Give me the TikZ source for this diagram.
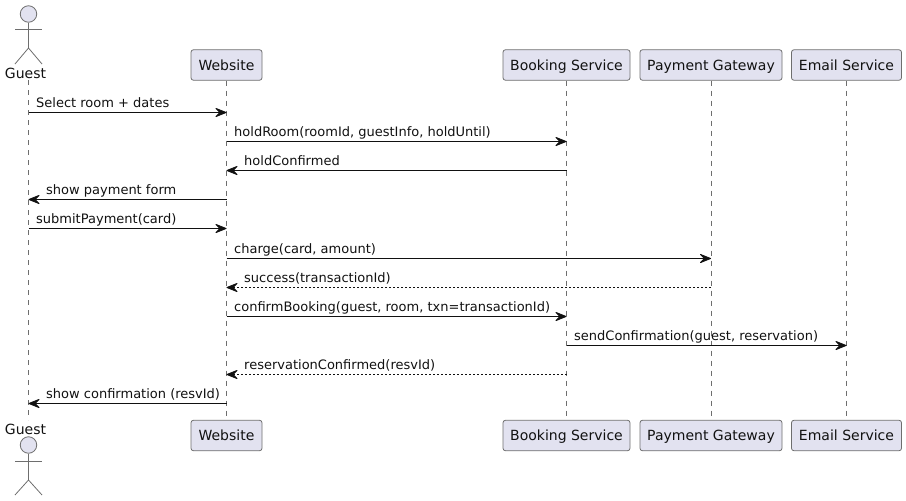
\documentclass[tikz,border=0pt]{standalone}
\usepackage{fontspec}
\setmainfont{DejaVu Sans}
\usetikzlibrary{arrows.meta}
\definecolor{pfill}{HTML}{E2E2F0}
\definecolor{pline}{HTML}{6E6E6E}
\definecolor{ink}{HTML}{111111}
\tikzset{
  px/.style={x=1pt,y=-1pt},
  part/.style={draw=pline,fill=pfill,rounded corners=2.5pt,line width=.8pt,minimum height=30.5pt,inner sep=0pt,anchor=center,font=\fontsize{14}{14}\selectfont,text=ink,text height=12pt,text depth=1.5pt},
  head/.style={circle,draw=pline,fill=pfill,line width=.8pt,minimum size=16.5pt,inner sep=0pt},
  limb/.style={draw=pline,line width=.8pt},
  aname/.style={inner sep=0pt,font=\fontsize{14}{14}\selectfont,text=ink},
  lifeline/.style={draw=pline,line width=.7pt,dash pattern=on 5pt off 5pt},
  msg/.style={draw=ink,line width=.9pt,-{Stealth[length=13pt,width=10.5pt,inset=5pt,round=false]}},
  reply/.style={msg,dash pattern=on 2pt off 2pt},
  lab/.style={inner sep=0pt,anchor=base west,font=\fontsize{13}{13}\selectfont,text=ink},
}
\begin{document}
\begin{tikzpicture}[px]
\useasboundingbox (0,0) rectangle (906,501);
% lifeline end points for the actor
\coordinate (guestT) at (28.5,80);
\coordinate (guestB) at (28.5,420);
% lifelines are drawn first
\node[part,minimum width=71pt] (web) at (226.5,65) {Website};
\node[part,minimum width=71pt] (webB) at (226.5,435.5) {Website};
\node[part,minimum width=127pt] (book) at (566.5,65) {Booking Service};
\node[part,minimum width=127pt] (bookB) at (566.5,435.5) {Booking Service};
\node[part,minimum width=142pt] (pay) at (711,65) {Payment Gateway};
\node[part,minimum width=142pt] (payB) at (711,435.5) {Payment Gateway};
\node[part,minimum width=110pt] (mail) at (846.5,65) {Email Service};
\node[part,minimum width=110pt] (mailB) at (846.5,435.5) {Email Service};
\draw[lifeline] (guestT) -- (guestB);
\draw[lifeline] (web.south) -- (webB.north);
\draw[lifeline] (book.south) -- (bookB.north);
\draw[lifeline] (pay.south) -- (payB.north);
\draw[lifeline] (mail.south) -- (mailB.north);
% top actor
\node[head] (guestHead) at (28.5,14) {};
\coordinate (gHip) at (28.5,48);
\coordinate (gArmL) at (15,29);
\coordinate (gArmR) at (42,29);
\coordinate (gLegL) at (15,64);
\coordinate (gLegR) at (42,64);
\draw[limb] (guestHead.south) -- (gHip);
\draw[limb] (gArmL) -- (gArmR);
\draw[limb] (gLegL) -- (gHip) -- (gLegR);
\node[aname] (guestName) at (25.5,73) {Guest};
% bottom actor
\node[aname] (guestNameB) at (25.5,429) {Guest};
\node[head] (guestHeadB) at (28.5,445) {};
\coordinate (hHip) at (28.5,480);
\coordinate (hArmL) at (15,461);
\coordinate (hArmR) at (42,461);
\coordinate (hLegL) at (15,495);
\coordinate (hLegR) at (42,495);
\draw[limb] (guestHeadB.south) -- (hHip);
\draw[limb] (hArmL) -- (hArmR);
\draw[limb] (hLegL) -- (hHip) -- (hLegR);
% messages
\draw[msg] (guestT |- 0,112.5) -- (web.south |- 0,112.5);
\node[lab] (m1) at (36,107.5) {Select room + dates};
\draw[msg] (web.south |- 0,141.5) -- (book.south |- 0,141.5);
\node[lab] (m2) at (234,136.5) {holdRoom(roomId, guestInfo, holdUntil)};
\draw[msg] (book.south |- 0,170.5) -- (web.south |- 0,170.5);
\node[lab] (m3) at (244,165.5) {holdConfirmed};
\draw[msg] (web.south |- 0,199.5) -- (guestT |- 0,199.5);
\node[lab] (m4) at (46,194.5) {show payment form};
\draw[msg] (guestT |- 0,228.5) -- (web.south |- 0,228.5);
\node[lab] (m5) at (36,223.5) {submitPayment(card)};
\draw[msg] (web.south |- 0,258.5) -- (pay.south |- 0,258.5);
\node[lab] (m6) at (234,253.5) {charge(card, amount)};
\draw[reply] (pay.south |- 0,287.5) -- (web.south |- 0,287.5);
\node[lab] (m7) at (244,282.5) {success(transactionId)};
\draw[msg] (web.south |- 0,316.5) -- (book.south |- 0,316.5);
\node[lab] (m8) at (234,311.5) {confirmBooking(guest, room, txn=transactionId)};
\draw[msg] (book.south |- 0,345.5) -- (mail.south |- 0,345.5);
\node[lab] (m9) at (574,340.5) {sendConfirmation(guest, reservation)};
\draw[reply] (book.south |- 0,374.5) -- (web.south |- 0,374.5);
\node[lab] (m10) at (244,369.5) {reservationConfirmed(resvId)};
\draw[msg] (web.south |- 0,403.5) -- (guestT |- 0,403.5);
\node[lab] (m11) at (46,398.5) {show confirmation (resvId)};
\end{tikzpicture}
\end{document}
